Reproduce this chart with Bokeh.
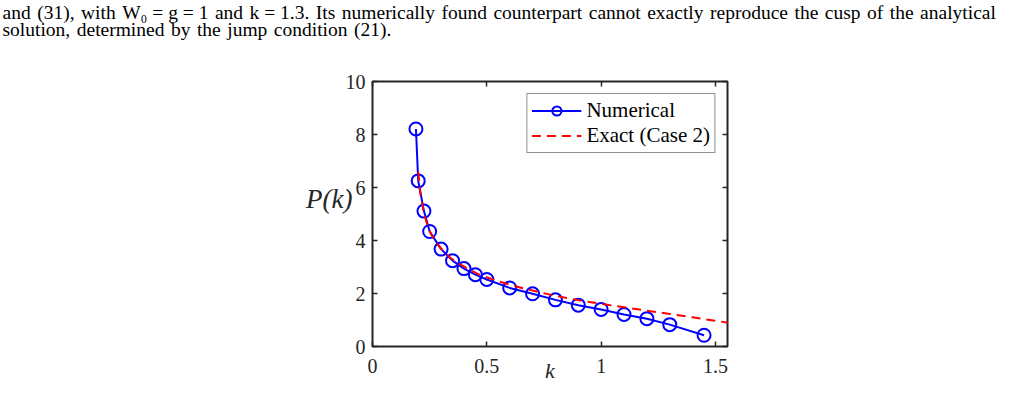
from bokeh.plotting import figure
from bokeh.models import Range1d, LinearAxis, Legend, LegendItem, FixedTicker, Title
from bokeh.embed import file_html
from bokeh.resources import INLINE

# ---------------- data ----------------
k_numerical = [0.19, 0.2, 0.225, 0.25, 0.3, 0.35, 0.4, 0.45, 0.5, 0.6,
               0.7, 0.8, 0.9, 1.0, 1.1, 1.2, 1.3, 1.45]
p_numerical = [8.21, 6.25, 5.11, 4.34, 3.675, 3.24, 2.94, 2.71, 2.53, 2.21,
               1.99, 1.76, 1.56, 1.40, 1.21, 1.05, 0.825, 0.425]

k_exact = [0.2, 0.21, 0.222, 0.235, 0.254, 0.275, 0.305, 0.34, 0.385, 0.43,
           0.472, 0.552, 0.6, 0.7, 0.8, 0.9, 1.0, 1.1, 1.2, 1.3, 1.4, 1.5, 1.555]
p_exact = [6.59, 5.75, 5.16, 4.72, 4.28, 3.95, 3.65, 3.35, 3.09, 2.88,
           2.69, 2.46, 2.33, 2.11, 1.91, 1.75, 1.61, 1.48, 1.35, 1.23, 1.10, 0.97, 0.90]

x_ticks = [0, 0.5, 1, 1.5]
x_tick_labels = ["0", "0.5", "1", "1.5"]
y_ticks = [0, 2, 4, 6, 8, 10]
y_tick_labels = ["0", "2", "4", "6", "8", "10"]

series_names = ["Numerical", "Exact (Case 2)"]
x_label = "k"
y_label = "P(k)"
caption_lines = [
    "and (31), with W\u2080 = g = 1 and k = 1.3. Its numerically found counterpart cannot exactly reproduce the cusp of the analytical",
    "solution, determined by the jump condition (21).",
]

# ---------------- layout ----------------
W, H = 1012, 385
FL, FR, FT, FB = 372, 727, 81, 347          # frame edges in canvas px
X_END = 1.5525
Y_END = 10
AX = "#262626"
SERIF = "Liberation Serif"
CAP_SIZE = "19.5px"


def yd(py):
    return (FB - py) / (FB - FT) * Y_END


def widen(line):
    # slightly wider inter-word gaps (math gaps around "=" stay normal)
    words = line.split(" ")
    out = words[0]
    for a, b in zip(words[:-1], words[1:]):
        gap = " " if "=" in (a, b) else "\u2004"
        out += gap + b
    return out


p = figure(width=W, height=H, x_range=Range1d(0, X_END), y_range=Range1d(0, Y_END),
           output_backend="svg", toolbar_location=None,
           min_border_left=FL, min_border_right=W - FR,
           min_border_top=FT, min_border_bottom=H - FB)
p.grid.visible = False
p.outline_line_color = AX
p.outline_line_width = 2
p.background_fill_color = "white"
p.border_fill_color = "white"

p.add_layout(LinearAxis(), "right")
p.add_layout(LinearAxis(), "above")

for ax in p.xaxis:
    ax.ticker = FixedTicker(ticks=x_ticks)
    ax.major_label_overrides = {float(t): s for t, s in zip(x_ticks, x_tick_labels)}
for ax in p.yaxis:
    ax.ticker = FixedTicker(ticks=y_ticks)
    ax.major_label_overrides = {float(t): s for t, s in zip(y_ticks, y_tick_labels)}

for ax in p.axis:
    ax.axis_line_color = None
    ax.major_tick_in = 5
    ax.major_tick_out = 0
    ax.minor_tick_line_color = None
    ax.major_tick_line_color = AX
    ax.major_tick_line_width = 1.5
    ax.major_label_text_font = SERIF
    ax.major_label_text_font_size = "20px"
    ax.major_label_text_color = AX

p.right[0].major_label_text_color = None
p.above[0].major_label_text_color = None
p.left[0].major_label_standoff = 7

# x axis: tick labels + italic axis title
xa = p.below[0]
xa.major_label_standoff = 12
xa.axis_label = x_label
xa.axis_label_text_font = SERIF
xa.axis_label_text_font_style = "italic"
xa.axis_label_text_font_size = "22px"
xa.axis_label_text_color = AX
xa.axis_label_standoff = -18

# y axis title, horizontal, drawn as the single label of an outer left axis
ya = LinearAxis(ticker=FixedTicker(ticks=[yd(199)]),
                major_label_overrides={yd(199): y_label},
                axis_line_color=None, major_tick_line_color=None,
                minor_tick_line_color=None, major_tick_out=0, major_tick_in=0,
                major_label_standoff=-10, major_label_text_font=SERIF,
                major_label_text_font_style="italic",
                major_label_text_font_size="27px", major_label_text_color=AX)
p.add_layout(ya, "left")

# ---------------- glyphs ----------------
num_line = p.line(k_numerical, p_numerical, line_color="#0000FF", line_width=2)
num_pts = p.scatter(k_numerical, p_numerical, marker="circle", size=13,
                    line_color="#0000FF", line_width=2, fill_color=None)
exact_line = p.line(k_exact, p_exact, line_color="#FF0000", line_width=2, line_dash="9 6")

legend = Legend(items=[LegendItem(label=series_names[0], renderers=[num_line, num_pts]),
                       LegendItem(label=series_names[1], renderers=[exact_line])],
                location="top_right", margin=12, padding=4, spacing=0,
                glyph_width=50, glyph_height=23, label_height=20, label_standoff=5,
                border_line_color=AX, border_line_width=1.5,
                background_fill_color="white", background_fill_alpha=1.0,
                label_text_font=SERIF, label_text_font_size="21px",
                label_text_color="#000000")
p.add_layout(legend)

# ---------------- caption text above ----------------
# an empty spacer title next to the frame, then the two-line caption above it
p.add_layout(Title(text=" ", standoff=18, vertical_align="bottom",
                   text_font=SERIF, text_font_size=CAP_SIZE), "above")
p.add_layout(Title(text="\n".join(widen(s) for s in caption_lines),
                   align="left", offset=-370, standoff=0, vertical_align="bottom",
                   text_font=SERIF, text_font_size=CAP_SIZE, text_line_height=0.82,
                   text_font_style="normal", text_color="#000000"), "above")

open("out.html", "w").write(file_html(p, INLINE))
